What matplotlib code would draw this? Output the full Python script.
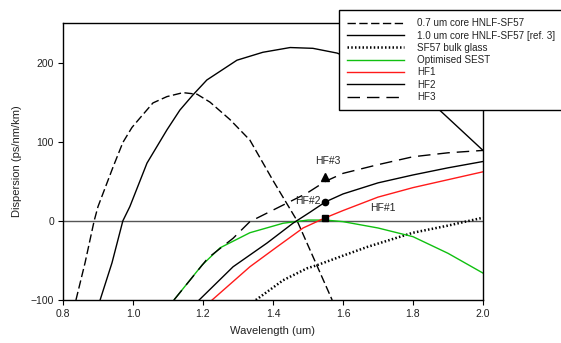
import matplotlib
matplotlib.use("Agg")
import matplotlib.pyplot as plt
import matplotlib.ticker as ticker

# ── data ────────────────────────────────────────────────────────────────
x_07 = [0.837, 0.863, 0.889, 0.9, 0.943, 0.971, 0.997, 1.02, 1.057, 1.097, 1.143, 1.183,
        1.22, 1.277, 1.334, 1.4, 1.469, 1.569]
y_07 = [-100, -53, 0, 18, 68, 99, 118, 130, 149, 157, 162, 160, 150, 128, 102, 51, 0, -100]

x_10 = [0.906, 0.94, 0.971, 0.991, 1.04, 1.097, 1.134, 1.171, 1.211, 1.297, 1.371, 1.449,
        1.514, 1.583, 1.65, 1.75, 1.871, 2.0]
y_10 = [-100, -53, 0, 18, 73, 115, 140, 159, 178, 203, 213, 219, 218, 212, 200, 178, 142, 89]

x_bulk = [1.351, 1.429, 1.497, 1.526, 1.6, 1.669, 1.8, 1.9, 2.0]
y_bulk = [-100, -75, -60, -56, -44, -33, -15, -6, 4]

x_sest = [1.117, 1.197, 1.249, 1.334, 1.429, 1.5, 1.55, 1.6, 1.7, 1.8, 1.9, 2.0]
y_sest = [-100, -56, -34, -15, -3, 1, 1, -1, -9, -20, -41, -66]

x_hf1 = [1.226, 1.334, 1.411, 1.486, 1.55, 1.6, 1.7, 1.8, 1.9, 2.0]
y_hf1 = [-100, -58, -33, -9, 4, 13, 30, 42, 52, 62]

x_hf2 = [1.189, 1.286, 1.383, 1.457, 1.506, 1.55, 1.6, 1.7, 1.8, 1.9, 2.0]
y_hf2 = [-100, -58, -28, -3, 11, 24, 34, 48, 58, 67, 75]

x_hf3 = [1.117, 1.214, 1.286, 1.334, 1.429, 1.497, 1.55, 1.6, 1.7, 1.8, 1.9, 2.0]
y_hf3 = [-100, -47, -22, -1, 20, 35, 50, 60, 71, 81, 86, 89]

# design points at 1.55 um
pt_x = 1.55
pt_hf1 = 4
pt_hf2 = 24
pt_hf3 = 55

labels = ["0.7 um core HNLF-SF57", "1.0 um core HNLF-SF57 [ref. 3]", "SF57 bulk glass",
          "Optimised SEST", "HF1", "HF2", "HF3"]

plt.rcParams["font.family"] = ["Liberation Sans", "DejaVu Sans"]
TXT = "#222222"

fig = plt.figure(figsize=(5.61, 3.43), dpi=100)
ax = fig.add_axes([63 / 561, 43 / 343, 420 / 561, 277 / 343])

lw = 1.0
h1, = ax.plot(x_07, y_07, color="black", lw=lw, ls=(0, (6, 2.5)))
h2, = ax.plot(x_10, y_10, color="black", lw=lw)
h3, = ax.plot(x_bulk, y_bulk, color="black", lw=1.8, ls=(0, (0.6, 0.9)))
h4, = ax.plot(x_sest, y_sest, color="#10c010", lw=lw)
h5, = ax.plot(x_hf1, y_hf1, color="#ff1a1a", lw=lw)
h6, = ax.plot(x_hf2, y_hf2, color="black", lw=lw)
h7, = ax.plot(x_hf3, y_hf3, color="black", lw=lw, ls=(0, (9, 5)))

ax.axhline(0, color="#555555", lw=1.0, zorder=0)

ax.plot(pt_x, pt_hf3, marker="^", color="black", ms=5.5, ls="none")
ax.plot(pt_x, pt_hf2, marker="o", color="black", ms=4.5, ls="none")
ax.plot(pt_x, pt_hf1, marker="s", color="black", ms=5, ls="none")

ax.text(1.557, 76, "HF#3", fontsize=7.5, color=TXT, ha="center", va="center")
ax.text(1.5, 25, "HF#2", fontsize=7.5, color=TXT, ha="center", va="center")
ax.text(1.714, 16, "HF#1", fontsize=7.5, color=TXT, ha="center", va="center")

ax.set_xlim(0.8, 2.0)
ax.set_ylim(-100, 250)
ax.xaxis.set_major_locator(ticker.MultipleLocator(0.2))
ax.xaxis.set_major_formatter(ticker.FormatStrFormatter("%.1f"))
ax.set_yticks([-100, 0, 100, 200])
ax.tick_params(direction="out", length=3.5, width=0.8, labelsize=7.5, labelcolor=TXT,
               top=False, right=False, pad=3)
for s in ax.spines.values():
    s.set_linewidth(1.0)

ax.set_xlabel("Wavelength (um)", fontsize=8, color=TXT, labelpad=5)
ax.set_ylabel("Dispersion (ps/nm/km)", fontsize=8, color=TXT, labelpad=6)

leg = fig.legend([h1, h2, h3, h4, h5, h6, h7], labels,
                 loc="upper left", bbox_to_anchor=(339 / 561, 1 - 10 / 343),
                 fontsize=7.1, handlelength=5.7, handletextpad=1.4,
                 labelspacing=0.23, borderpad=0.85, borderaxespad=0,
                 fancybox=False, framealpha=1, edgecolor="black")
leg.get_frame().set_linewidth(1.0)
for t in leg.get_texts():
    t.set_color(TXT)

fig.savefig("out.png", dpi=100)
